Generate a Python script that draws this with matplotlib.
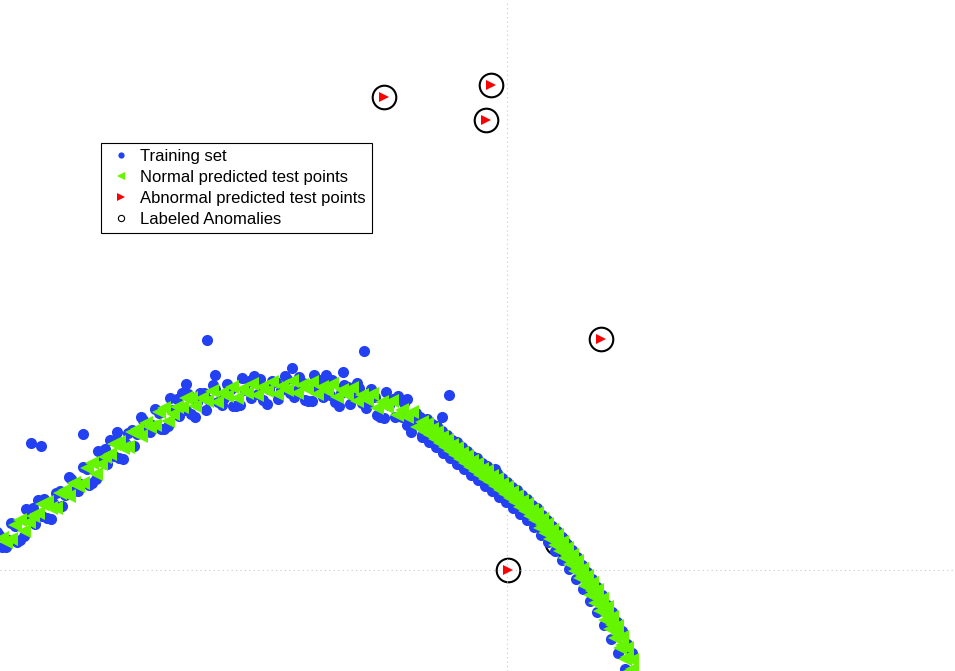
import matplotlib
matplotlib.use("Agg")
import matplotlib.pyplot as plt
from matplotlib.lines import Line2D

# ---------------- data ----------------
# Training set (blue dots)
train_x = [
    -5.10, -5.01, -4.92, -4.83, -4.74, -4.65, -4.56, -4.47, -4.38, -4.29, -4.20, -4.11,
    -4.02, -3.93, -3.84, -3.75, -3.66, -3.57, -3.48, -3.39, -3.30, -3.21, -3.12, -3.03,
    -2.94, -2.85, -2.76, -2.67, -2.58, -2.49, -2.40, -2.31, -2.22, -2.13, -2.04, -1.95,
    -1.86, -1.77, -1.68, -1.59, -1.50, -1.41, -1.32, -1.23, -1.14, -1.05, -0.96, -0.87,
    -5.055, -4.965, -4.875, -4.785, -4.695, -4.605, -4.515, -4.425, -4.335, -4.245, -4.155, -4.065,
    -3.975, -3.885, -3.795, -3.705, -3.615, -3.525, -3.435, -3.345, -3.255, -3.165, -3.075, -2.985,
    -2.895, -2.805, -2.715, -2.625, -2.535, -2.445, -2.355, -2.265, -2.175, -2.085, -1.995, -1.905,
    -1.815, -1.725, -1.635, -1.545, -1.455, -1.365, -1.275, -1.185, -1.095, -1.005, -0.915,
    -5.08, -4.99, -4.90, -4.81, -4.72, -4.63, -4.54, -4.45, -4.36, -4.27, -4.18, -4.09,
    -4.00, -3.91, -3.82, -3.73, -3.64, -3.55, -3.46, -3.37, -3.28, -3.19, -3.10, -3.01,
    -2.92, -2.83, -2.74, -2.65, -2.56, -2.47, -2.38, -2.29, -2.20, -2.11, -2.02, -1.93,
    -1.84, -1.75, -1.66, -1.57, -1.48, -1.39, -1.30, -1.21, -1.12, -1.03, -0.94, -0.85,
    -0.80, -0.75, -0.70, -0.65, -0.60, -0.55, -0.50, -0.45, -0.40, -0.35, -0.30, -0.25,
    -0.20, -0.15, -0.10, -0.05, 0.00, 0.05, 0.10, 0.15, 0.20, 0.25, 0.30, 0.35,
    0.40, 0.45, 0.50, 0.55, 0.60, 0.65, 0.70, 0.75, 0.80, 0.85, 0.90, 0.95,
    1.00, 1.05, 1.10, 1.15, 1.20, 1.25,
    -0.85, -0.78, -0.71, -0.64, -0.57, -0.50, -0.43, -0.36, -0.29, -0.22, -0.15, -0.08,
    -0.01, 0.06, 0.13, 0.20, 0.27, 0.34, 0.41, 0.48, 0.55, 0.62, 0.69, 0.76,
    0.83, 0.90, 0.97, 1.04, 1.11, 1.18,
    -4.76, -4.66, -4.24, -3.00, -1.43, -0.58, 0.44, -3.21, -2.92, -2.15, -1.64, -1.00,
    -0.65, -0.12, -3.90,
]
train_y = [
    0.38, 0.23, 0.44, 0.34, 0.62, 0.54, 0.51, 0.79, 0.93, 0.79, 1.01, 0.91,
    1.21, 1.14, 1.11, 1.40, 1.53, 1.38, 1.57, 1.44, 1.71, 1.60, 1.53, 1.77,
    1.85, 1.65, 1.81, 1.65, 1.89, 1.76, 1.66, 1.88, 1.94, 1.73, 1.87, 1.69,
    1.90, 1.75, 1.64, 1.83, 1.87, 1.62, 1.73, 1.52, 1.71, 1.53, 1.38, 1.53,
    0.23, 0.47, 0.30, 0.51, 0.70, 0.52, 0.77, 0.75, 0.79, 1.03, 0.87, 1.09,
    1.30, 1.12, 1.37, 1.36, 1.39, 1.61, 1.41, 1.60, 1.77, 1.56, 1.77, 1.70,
    1.68, 1.86, 1.64, 1.80, 1.94, 1.70, 1.89, 1.80, 1.77, 1.93, 1.69, 1.83,
    1.95, 1.68, 1.85, 1.74, 1.67, 1.81, 1.53, 1.65, 1.74, 1.45, 1.57,
    0.35, 0.30, 0.28, 0.61, 0.46, 0.71, 0.67, 0.64, 0.91, 0.86, 0.85, 1.19,
    1.06, 1.31, 1.27, 1.24, 1.50, 1.45, 1.41, 1.72, 1.54, 1.76, 1.68, 1.60,
    1.81, 1.72, 1.64, 1.92, 1.72, 1.91, 1.81, 1.71, 1.91, 1.79, 1.70, 1.95,
    1.73, 1.90, 1.77, 1.66, 1.82, 1.67, 1.55, 1.78, 1.53, 1.67, 1.50, 1.35,
    1.51, 1.46, 1.44, 1.39, 1.35, 1.30, 1.28, 1.23, 1.19, 1.14, 1.12, 1.07,
    1.04, 0.99, 0.97, 0.92, 0.88, 0.83, 0.80, 0.75, 0.71, 0.65, 0.62, 0.55,
    0.50, 0.44, 0.39, 0.33, 0.26, 0.20, 0.13, 0.05, -0.02, -0.09, -0.17, -0.25,
    -0.35, -0.42, -0.52, -0.61, -0.74, -0.83,
    1.33, 1.28, 1.23, 1.17, 1.12, 1.06, 1.01, 0.95, 0.90, 0.84, 0.79, 0.73,
    0.68, 0.62, 0.56, 0.50, 0.43, 0.35, 0.28, 0.19, 0.10, 0.01, -0.09, -0.19,
    -0.31, -0.42, -0.55, -0.69, -0.83, -0.99,
    1.27, 1.24, 1.36, 2.30, 2.19, 1.75, 0.44, 1.86, 1.95, 2.02, 1.98, 1.71,
    1.53, 1.01, 1.38,
]

# Normal predicted test points (green, left-pointing triangles)
normal_x = [
    -5.05, -4.96, -4.87, -4.78, -4.69, -4.60, -4.51, -4.42, -4.33, -4.24, -4.15, -4.06,
    -3.97, -3.88, -3.79, -3.70, -3.61, -3.52, -3.43, -3.34, -3.25, -3.16,
    -5.01, -4.92, -4.83, -4.74, -4.65, -4.56, -4.47, -4.38, -4.29, -4.20, -4.11, -4.02,
    -3.93, -3.84, -3.75, -3.66, -3.57, -3.48, -3.39, -3.30, -3.21, -3.12,
    -3.05, -2.95, -2.85, -2.75, -2.65, -2.55, -2.45, -2.35, -2.25, -2.15, -2.05, -1.95,
    -1.85, -1.75, -1.65, -1.55, -1.45, -1.35, -1.25, -1.15, -1.05, -0.95,
    -3.00, -2.90, -2.80, -2.70, -2.60, -2.50, -2.40, -2.30, -2.20, -2.10, -2.00, -1.90,
    -1.80, -1.70, -1.60, -1.50, -1.40, -1.30, -1.20, -1.10, -1.00, -0.90,
    -0.85, -0.80, -0.75, -0.70, -0.65, -0.60, -0.55, -0.50, -0.45, -0.40, -0.35, -0.30,
    -0.25, -0.20, -0.15, -0.10, -0.05, 0.00, 0.05, 0.10, 0.15, 0.20, 0.25, 0.30,
    0.35, 0.40, 0.45, 0.50, 0.55, 0.60, 0.65, 0.70, 0.75, 0.80, 0.85, 0.90,
    0.95, 1.00, 1.05, 1.10, 1.15, 1.20, 1.25,
    -0.85, -0.80, -0.75, -0.70, -0.65, -0.60, -0.55, -0.50, -0.45, -0.40, -0.35, -0.30,
    -0.25, -0.20, -0.15, -0.10, -0.05, 0.00, 0.05, 0.10, 0.15, 0.20, 0.25, 0.30,
    0.35, 0.40, 0.45, 0.50, 0.55, 0.60, 0.65, 0.70, 0.75, 0.80, 0.85, 0.90,
    0.95, 1.00, 1.05, 1.10, 1.15, 1.20, 1.25,
    -0.825, -0.775, -0.725, -0.675, -0.625, -0.575, -0.525, -0.475, -0.425, -0.375, -0.325, -0.275,
    -0.225, -0.175, -0.125, -0.075, -0.025, 0.025, 0.075, 0.125, 0.175, 0.225, 0.275, 0.325,
    0.375, 0.425, 0.475, 0.525, 0.575, 0.625, 0.675, 0.725, 0.775, 0.825, 0.875, 0.925,
    0.975, 1.025, 1.075, 1.125, 1.175, 1.225,
]
normal_y = [
    0.32, 0.31, 0.50, 0.48, 0.57, 0.68, 0.62, 0.80, 0.87, 0.87, 1.07, 1.06,
    1.16, 1.28, 1.23, 1.41, 1.47, 1.45, 1.62, 1.56, 1.63, 1.72,
    0.28, 0.45, 0.39, 0.54, 0.66, 0.62, 0.77, 0.74, 0.84, 1.02, 0.96, 1.13,
    1.26, 1.22, 1.38, 1.34, 1.43, 1.58, 1.49, 1.63, 1.72, 1.64,
    1.72, 1.79, 1.77, 1.83, 1.81, 1.86, 1.83, 1.88, 1.84, 1.89, 1.85, 1.88,
    1.83, 1.86, 1.80, 1.82, 1.75, 1.76, 1.68, 1.69, 1.60, 1.58,
    1.69, 1.68, 1.74, 1.72, 1.77, 1.75, 1.79, 1.76, 1.80, 1.77, 1.81, 1.76,
    1.79, 1.73, 1.75, 1.69, 1.70, 1.62, 1.63, 1.55, 1.53, 1.43,
    1.48, 1.46, 1.41, 1.38, 1.33, 1.30, 1.25, 1.22, 1.17, 1.14, 1.09, 1.06,
    1.01, 0.99, 0.94, 0.91, 0.86, 0.83, 0.78, 0.74, 0.69, 0.66, 0.60, 0.57,
    0.51, 0.46, 0.40, 0.35, 0.28, 0.22, 0.15, 0.09, 0.01, -0.06, -0.13, -0.20,
    -0.29, -0.37, -0.47, -0.56, -0.67, -0.78, -0.90,
    1.44, 1.41, 1.37, 1.33, 1.29, 1.25, 1.21, 1.17, 1.13, 1.09, 1.05, 1.01,
    0.97, 0.94, 0.90, 0.86, 0.82, 0.78, 0.74, 0.69, 0.65, 0.61, 0.56, 0.51,
    0.45, 0.40, 0.34, 0.28, 0.22, 0.15, 0.09, 0.02, -0.06, -0.13, -0.21, -0.28,
    -0.37, -0.46, -0.55, -0.64, -0.75, -0.87, -0.99,
    1.38, 1.35, 1.31, 1.27, 1.23, 1.19, 1.15, 1.11, 1.07, 1.03, 0.99, 0.95,
    0.91, 0.88, 0.84, 0.80, 0.76, 0.72, 0.68, 0.63, 0.59, 0.54, 0.50, 0.42,
    0.37, 0.31, 0.25, 0.19, 0.12, 0.06, -0.01, -0.08, -0.16, -0.25, -0.33, -0.41,
    -0.50, -0.59, -0.68, -0.78, -0.89, -1.01,
]

# Abnormal predicted test points (red, right-pointing triangles)
abnormal_x = [-1.23, -0.16, -0.21, 0.94, 0.01]
abnormal_y = [4.73, 4.85, 4.50, 2.31, 0.00]

# Labeled anomalies (open black circles)
labeled_x = [-1.23, -0.16, -0.21, 0.94, 0.01, 0.50]
labeled_y = [4.73, 4.85, 4.50, 2.31, 0.00, 0.27]

labels = ["Training set", "Normal predicted test points",
          "Abnormal predicted test points", "Labeled Anomalies"]

# ---------------- styling ----------------
BLUE = "#2341f2"
GREEN = "#66f500"
RED = "#ff0000"

plt.rcParams["font.family"] = ["Liberation Sans", "DejaVu Sans"]

fig = plt.figure(figsize=(9.55, 6.71), dpi=100)
ax = fig.add_axes([0, 0, 1, 1])

ax.plot(labeled_x, labeled_y, linestyle="none", marker="o", markersize=17,
        markerfacecolor="none", markeredgecolor="black", markeredgewidth=1.5, zorder=1)
ax.plot(train_x, train_y, linestyle="none", marker="o", markersize=8,
        color=BLUE, markeredgewidth=0, zorder=2)
ax.plot(normal_x, normal_y, linestyle="none", marker="<", markersize=10.5,
        color=GREEN, markeredgewidth=0, zorder=3)
ax.plot(abnormal_x, abnormal_y, linestyle="none", marker=">", markersize=7.5,
        color=RED, markeredgewidth=0, zorder=4)

ax.set_xlim(-5.07, 4.48)
ax.set_ylim(-1.01, 5.70)
ax.set_xticks([0])
ax.set_yticks([0])
ax.tick_params(length=0, labelbottom=False, labelleft=False)
ax.grid(True, linestyle=(0, (1, 3)), color="#c8c8c8", linewidth=0.8)
for s in ax.spines.values():
    s.set_visible(False)

handles = [
    Line2D([], [], linestyle="none", marker="o", markersize=4.5, color=BLUE, markeredgewidth=0),
    Line2D([], [], linestyle="none", marker="<", markersize=5.5, color=GREEN, markeredgewidth=0),
    Line2D([], [], linestyle="none", marker=">", markersize=5.5, color=RED, markeredgewidth=0),
    Line2D([], [], linestyle="none", marker="o", markersize=4.5, markerfacecolor="none",
           markeredgecolor="black", markeredgewidth=0.8),
]
leg = ax.legend(handles, labels, loc="upper left", bbox_to_anchor=(0.1058, 0.7869),
                borderaxespad=0, fancybox=False, framealpha=1, edgecolor="black",
                fontsize=12.0, handlelength=1.7, handletextpad=0.3, labelspacing=0.36,
                borderpad=0.35)
leg.get_frame().set_linewidth(0.8)

fig.savefig("out.png", dpi=100)
